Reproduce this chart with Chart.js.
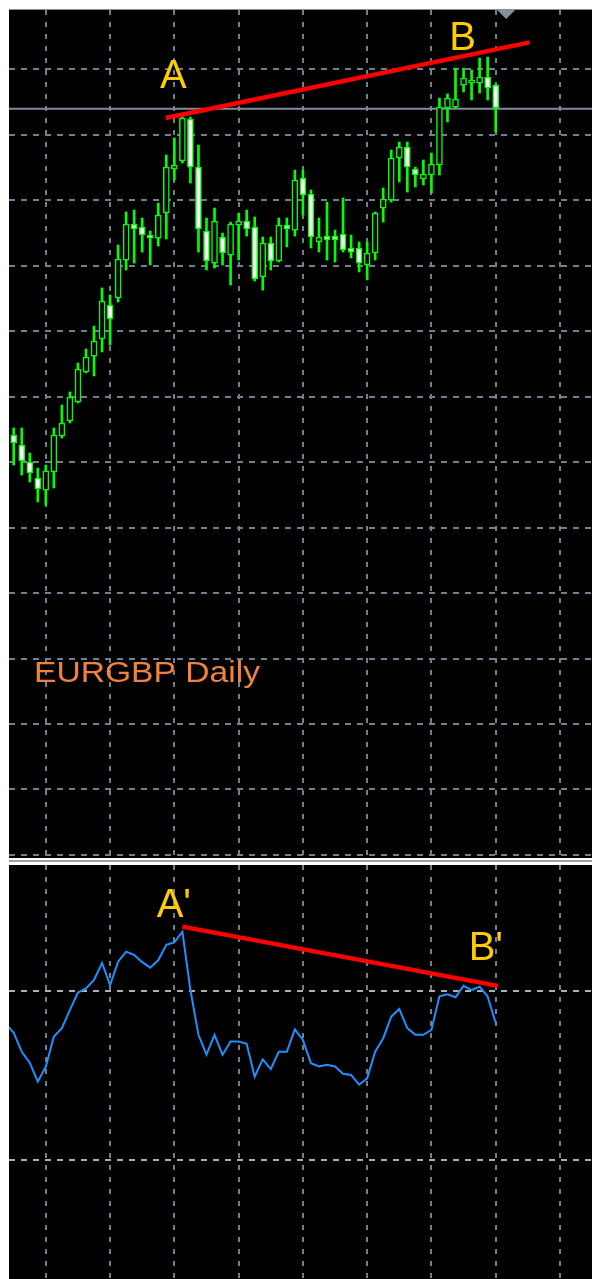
<!DOCTYPE html>
<html><head><meta charset="utf-8">
<script src="https://cdn.jsdelivr.net/npm/chart.js@4/dist/chart.umd.min.js"></script>
<style>
html,body{margin:0;padding:0;background:#fff;width:592px;height:1279px;overflow:hidden;}
#frameTop{position:absolute;left:9px;top:9px;width:583px;height:1px;background:#8c8c8c;}
#top{position:absolute;left:9px;top:10px;background:#000;}
#sep{position:absolute;left:9px;top:858px;width:583px;height:7px;background:#fff;}
#sepMid{position:absolute;left:9px;top:860px;width:583px;height:2px;background:#a0a0a0;}
#bot{position:absolute;left:9px;top:865px;background:#000;}
</style></head>
<body>
<div id="frameTop"></div>
<canvas id="top" width="583" height="848"></canvas>
<div id="sep"></div><div id="sepMid"></div>
<canvas id="bot" width="583" height="414"></canvas>
<script>
// ---- EURGBP daily candles (bar index 0..60) ----
const opens  = [0.85206,0.85130,0.85000,0.84878,0.84786,0.84924,0.85199,0.85313,0.85458,0.85687,0.85809,0.85939,0.86199,0.86252,0.86542,0.86817,0.86794,0.86733,0.86710,0.86901,0.87237,0.87298,0.87619,0.87252,0.86764,0.86519,0.86718,0.86580,0.86809,0.86840,0.86794,0.86413,0.86672,0.86535,0.86809,0.86771,0.87168,0.87046,0.86680,0.86725,0.86725,0.86741,0.86634,0.86634,0.86504,0.86596,0.86939,0.87000,0.87321,0.87405,0.87237,0.87161,0.87191,0.87268,0.87703,0.87710,0.87878,0.87893,0.87893,0.87939,0.87878];
const highs  = [0.85260,0.85260,0.85069,0.84954,0.84977,0.85260,0.85435,0.85535,0.85756,0.85863,0.86038,0.86329,0.86275,0.86657,0.86909,0.86924,0.86863,0.86764,0.86977,0.87344,0.87474,0.87634,0.87634,0.87420,0.86863,0.86939,0.86748,0.86832,0.86901,0.86924,0.86871,0.86718,0.86718,0.86863,0.86863,0.87229,0.87229,0.87077,0.86863,0.86985,0.86771,0.87016,0.86733,0.86680,0.86680,0.86909,0.87092,0.87382,0.87443,0.87443,0.87252,0.87306,0.87359,0.87779,0.87810,0.88008,0.88008,0.87993,0.88084,0.88092,0.87886];
const lows   = [0.84977,0.84901,0.84848,0.84695,0.84672,0.84802,0.85183,0.85298,0.85451,0.85680,0.85657,0.85840,0.85893,0.86222,0.86466,0.86519,0.86603,0.86504,0.86649,0.86703,0.87153,0.87283,0.87130,0.86603,0.86466,0.86481,0.86504,0.86351,0.86542,0.86725,0.86382,0.86313,0.86466,0.86527,0.86642,0.86725,0.86886,0.86634,0.86603,0.86542,0.86527,0.86603,0.86558,0.86451,0.86390,0.86542,0.86832,0.86985,0.87138,0.87061,0.87100,0.87115,0.87054,0.87191,0.87596,0.87703,0.87825,0.87764,0.87817,0.87764,0.87519];
const closes = [0.85145,0.85008,0.84916,0.84794,0.84932,0.85206,0.85298,0.85496,0.85710,0.85802,0.85924,0.86229,0.86092,0.86550,0.86817,0.86779,0.86733,0.86710,0.86886,0.87252,0.87268,0.87626,0.87252,0.86779,0.86535,0.86840,0.86596,0.86817,0.86840,0.86779,0.86397,0.86672,0.86535,0.86809,0.86779,0.87153,0.87038,0.86718,0.86718,0.86695,0.86695,0.86619,0.86603,0.86519,0.86596,0.86901,0.87008,0.87321,0.87405,0.87252,0.87191,0.87199,0.87275,0.87710,0.87779,0.87771,0.87932,0.87916,0.87939,0.87855,0.87703];

// ---- RSI oscillator (starts one bar before the first visible candle) ----
const rsiStartBar = -1;
const rsi = [62.2,60.1,55.6,53.0,48.5,52.1,59.2,61.2,65.5,69.6,70.6,72.6,76.6,71.4,76.9,79.3,78.5,76.8,75.5,77.3,80.9,81.5,84.0,70.2,59.6,54.9,59.6,54.9,58.0,58.0,57.5,49.7,53.8,51.5,55.6,55.6,60.9,58.4,52.9,52.1,52.5,52.1,50.4,50.1,47.8,49.3,55.6,58.8,63.9,65.7,61.2,59.6,59.6,60.8,68.7,69.2,68.5,71.2,70.2,71.0,68.7,62.4];

// ---- grid / levels ----
const priceGrid = [0.820,0.825,0.830,0.835,0.840,0.845,0.850,0.855,0.860,0.865,0.870,0.875,0.880];
const rsiLevels = [30,70];
const barGrid   = [4,12,20,28,36,44,52,60,68];

// ---- drawn objects ----
const trendAB  = [{x:18.92,y:0.87626},{x:64.21,y:0.88204}];
const trendRSI = [{x:21.0,y:85.22},{x:60.27,y:71.18}];
const bidPrice = 0.87697;
const shiftBar = 61.3;
const topLabels = [{text:'A',x:18.21,y:0.87853},{text:'B',x:54.23,y:0.88145}];
const botLabels = [{text:"A'",x:17.8,y:87.56},{text:"B'",x:56.64,y:77.31}];
const chartTitle = {text:'EURGBP Daily',x:2.53,y:0.83318};

const bars = opens.map((_,i)=>i);
const X_MIN = -0.585, X_MAX = 71.99;
const FONT = '"Liberation Sans", Arial, sans-serif';

function xScale(){
  return {type:'linear',min:X_MIN,max:X_MAX,offset:false,
    afterBuildTicks:s=>{s.ticks=barGrid.map(v=>({value:v}));},
    ticks:{display:false},
    grid:{display:true,color:'#717f8f',lineWidth:2,drawTicks:false,offset:false},
    border:{display:false,dash:[5,7]}};
}

const topDecor = {
  id:'topDecor',
  beforeDatasetsDraw(chart){
    const {ctx,chartArea:a,scales:{x,y}} = chart;
    const py = y.getPixelForValue(bidPrice);
    ctx.save();
    ctx.strokeStyle='#7f8c9a'; ctx.lineWidth=2;
    ctx.beginPath(); ctx.moveTo(a.left,py); ctx.lineTo(a.right,py); ctx.stroke();
    const sx = x.getPixelForValue(shiftBar);
    ctx.fillStyle='#8390a0';
    ctx.beginPath(); ctx.moveTo(sx-9,a.top); ctx.lineTo(sx+9,a.top); ctx.lineTo(sx,a.top+9); ctx.closePath(); ctx.fill();
    ctx.restore();
  },
  afterDatasetsDraw(chart){
    const {ctx,scales:{x,y}} = chart;
    ctx.save();
    ctx.fillStyle='#ffcc00'; ctx.font='40px '+FONT; ctx.textAlign='left'; ctx.textBaseline='alphabetic';
    topLabels.forEach(l=>ctx.fillText(l.text,x.getPixelForValue(l.x),y.getPixelForValue(l.y)));
    const tx = x.getPixelForValue(chartTitle.x), ty = y.getPixelForValue(chartTitle.y);
    ctx.translate(tx,ty); ctx.scale(1.12,1);
    ctx.fillStyle='#f0823c'; ctx.font='30px '+FONT;
    ctx.fillText(chartTitle.text,0,0);
    ctx.restore();
  }
};
const botDecor = {
  id:'botDecor',
  afterDatasetsDraw(chart){
    const {ctx,scales:{x,y}} = chart;
    ctx.save();
    ctx.fillStyle='#ffcc00'; ctx.font='40px '+FONT; ctx.textAlign='left'; ctx.textBaseline='alphabetic';
    botLabels.forEach(l=>ctx.fillText(l.text,x.getPixelForValue(l.x),y.getPixelForValue(l.y)));
    ctx.restore();
  }
};

new Chart(document.getElementById('top'),{
  type:'bar',
  data:{datasets:[
    {type:'line',data:trendAB,borderColor:'#ff0000',borderWidth:4.5,pointRadius:0,order:0,borderCapStyle:'butt'},
    {label:'body',data:bars.map(i=>({x:i,y:[opens[i],closes[i]]})),grouped:false,barThickness:6,
      backgroundColor:c=>closes[c.dataIndex]>opens[c.dataIndex]?'#000000':'#ffffff',
      borderColor:'#00ff00',borderWidth:1.5,borderSkipped:false,order:1},
    {label:'wick',data:bars.map(i=>({x:i,y:[lows[i],highs[i]]})),grouped:false,barThickness:2,
      backgroundColor:'#00ff00',borderWidth:0,borderSkipped:false,order:2}
  ]},
  options:{responsive:false,animation:false,events:[],
    layout:{padding:0},
    plugins:{legend:{display:false},tooltip:{enabled:false},title:{display:false}},
    scales:{
      x:xScale(),
      y:{type:'linear',min:0.81977,max:0.88451,
        afterBuildTicks:s=>{s.ticks=priceGrid.map(v=>({value:v}));},
        ticks:{display:false},
        grid:{display:true,color:'#717f8f',lineWidth:2,drawTicks:false},
        border:{display:false,dash:[6,6]}}
    }},
  plugins:[topDecor]
});

new Chart(document.getElementById('bot'),{
  type:'line',
  data:{datasets:[
    {data:trendRSI,borderColor:'#ff0000',borderWidth:4.5,pointRadius:0,order:0,borderCapStyle:'butt'},
    {data:rsi.map((v,k)=>({x:k+rsiStartBar,y:v})),borderColor:'#1e90ff',borderWidth:2,pointRadius:0,tension:0,order:1}
  ]},
  options:{responsive:false,animation:false,events:[],
    layout:{padding:0},
    plugins:{legend:{display:false},tooltip:{enabled:false}},
    scales:{
      x:xScale(),
      y:{type:'linear',min:1.8,max:99.8,
        afterBuildTicks:s=>{s.ticks=rsiLevels.map(v=>({value:v}));},
        ticks:{display:false},
        grid:{display:true,color:'#b0b0b0',lineWidth:2,drawTicks:false},
        border:{display:false,dash:[6,6]}}
    }},
  plugins:[botDecor]
});
</script>
</body></html>
